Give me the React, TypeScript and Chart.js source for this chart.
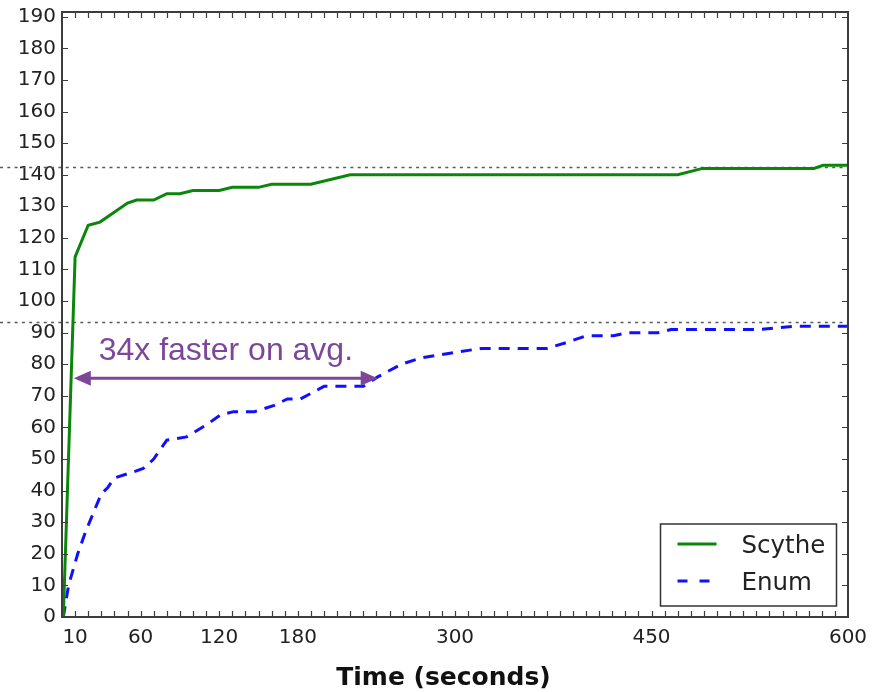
import React, { useEffect, useRef } from "react";
import { Chart, registerables } from "chart.js";

Chart.register(...registerables);

// ---------- data ----------
const SERIES_LABELS = ["Scythe", "Enum"];

const SCYTHE_TIME = [1, 10, 20, 29, 50, 57, 70, 80, 90, 100, 120, 130, 150, 160, 190, 220, 470, 489, 574, 581, 600];
const SCYTHE_SOLVED = [0, 114, 124, 125, 131, 132, 132, 134, 134, 135, 135, 136, 136, 137, 137, 140, 140, 142, 142, 143, 143];

const ENUM_TIME = [1, 5, 12, 18, 24, 30, 35, 40, 55, 62, 70, 80, 95, 111, 121, 131, 147, 162, 172, 182, 200, 230, 241, 259, 274, 289, 304, 320, 370, 386, 400, 421, 432, 455, 465, 480, 533, 559, 600];
const ENUM_SOLVED = [0, 10, 20, 27, 33, 39, 41, 44, 46, 47, 50, 56, 57, 61, 64, 65, 65, 67, 69, 69, 73, 73, 76, 80, 82, 83, 84, 85, 85, 87, 89, 89, 90, 90, 91, 91, 91, 92, 92];

const X_TICKS = [10, 60, 120, 180, 300, 450, 600];
const Y_TICKS = [0, 10, 20, 30, 40, 50, 60, 70, 80, 90, 100, 110, 120, 130, 140, 150, 160, 170, 180, 190];
const X_MINOR_TICKS = [10, 20, 30, 40, 50, 60, 70, 80, 90, 100, 110, 120, 130, 140, 150, 160, 170, 180, 190, 200, 210, 220, 230, 240, 250, 260, 270, 280, 290, 300, 310, 320, 330, 340, 350, 360, 370, 380, 390, 400, 410, 420, 430, 440, 450, 460, 470, 480, 490, 500, 510, 520, 530, 540, 550, 560, 570, 580, 590];
const X_RANGE = [0, 600];
const Y_RANGE = [0, 191.5];

const REFERENCE_LEVELS = [142.5, 93.5];

const X_TITLE = "Time (seconds)";
const ANNOTATION_TEXT = "34x faster on avg.";
const ANNOTATION_FROM = 9;
const ANNOTATION_TO = 241;
const ANNOTATION_LEVEL = 75.6;
const ANNOTATION_TEXT_X = 28;
const ANNOTATION_TEXT_Y = 81.5;

// ---------- styles ----------
const GREEN = "#0a870a";
const BLUE = "#1010ff";
const PURPLE = "#7d4799";
const FRAME = "#3c3c3c";
const TEXT = "#222222";
const FONT = "'DejaVu Sans', 'Liberation Sans', sans-serif";

const decorPlugin = {
  id: "figureDecor",
  beforeDatasetsDraw(chart: any) {
    const { ctx, chartArea: a, scales } = chart;
    const y = scales.y;
    ctx.save();
    ctx.strokeStyle = "#5a5a5a";
    ctx.lineWidth = 1.5;
    ctx.setLineDash([3, 4.3]);
    for (const v of REFERENCE_LEVELS) {
      const py = Math.round(y.getPixelForValue(v)) + 0.5;
      ctx.beginPath();
      ctx.moveTo(0, py);
      ctx.lineTo(a.right, py);
      ctx.stroke();
    }
    ctx.restore();
  },
  afterDatasetsDraw(chart: any) {
    const { ctx, chartArea: a, scales } = chart;
    const x = scales.x;
    const y = scales.y;
    ctx.save();

    // inward tick marks on all four sides
    ctx.strokeStyle = FRAME;
    ctx.lineWidth = 1.2;
    const tl = 6;
    ctx.beginPath();
    for (const v of X_MINOR_TICKS) {
      const px = Math.round(x.getPixelForValue(v)) + 0.5;
      ctx.moveTo(px, a.bottom);
      ctx.lineTo(px, a.bottom - tl);
      ctx.moveTo(px, a.top);
      ctx.lineTo(px, a.top + tl);
    }
    for (const v of Y_TICKS) {
      const py = Math.round(y.getPixelForValue(v)) + 0.5;
      ctx.moveTo(a.left, py);
      ctx.lineTo(a.left + tl, py);
      ctx.moveTo(a.right, py);
      ctx.lineTo(a.right - tl, py);
    }
    ctx.stroke();

    // frame
    ctx.lineWidth = 2;
    ctx.strokeRect(a.left, a.top, a.right - a.left, a.bottom - a.top);

    // annotation arrow
    const ax0 = x.getPixelForValue(ANNOTATION_FROM);
    const ax1 = x.getPixelForValue(ANNOTATION_TO);
    const ay = y.getPixelForValue(ANNOTATION_LEVEL);
    const headL = 17;
    const headW = 7.5;
    ctx.strokeStyle = PURPLE;
    ctx.fillStyle = PURPLE;
    ctx.lineWidth = 3;
    ctx.beginPath();
    ctx.moveTo(ax0 + headL - 2, ay);
    ctx.lineTo(ax1 - headL + 2, ay);
    ctx.stroke();
    ctx.beginPath();
    ctx.moveTo(ax0, ay);
    ctx.lineTo(ax0 + headL, ay - headW);
    ctx.lineTo(ax0 + headL, ay + headW);
    ctx.closePath();
    ctx.fill();
    ctx.beginPath();
    ctx.moveTo(ax1, ay);
    ctx.lineTo(ax1 - headL, ay - headW);
    ctx.lineTo(ax1 - headL, ay + headW);
    ctx.closePath();
    ctx.fill();

    ctx.font = "32px 'Liberation Sans', Arial, sans-serif";
    ctx.textAlign = "left";
    ctx.textBaseline = "alphabetic";
    ctx.fillText(ANNOTATION_TEXT, x.getPixelForValue(ANNOTATION_TEXT_X), y.getPixelForValue(ANNOTATION_TEXT_Y));

    // legend
    const lx = a.right - 187.5;
    const ly = a.bottom - 93;
    const lw = 176;
    const lh = 82;
    ctx.fillStyle = "#ffffff";
    ctx.fillRect(lx, ly, lw, lh);
    ctx.strokeStyle = "#333333";
    ctx.lineWidth = 1.5;
    ctx.strokeRect(lx, ly, lw, lh);
    const ds = chart.data.datasets;
    const rows = [ly + 20, ly + 57];
    ds.forEach((d: any, i: number) => {
      ctx.save();
      ctx.strokeStyle = d.borderColor;
      ctx.lineWidth = 3;
      ctx.setLineDash(d.borderDash && d.borderDash.length ? [10, 12] : []);
      ctx.beginPath();
      ctx.moveTo(lx + 17, rows[i]);
      ctx.lineTo(lx + 56, rows[i]);
      ctx.stroke();
      ctx.restore();
      ctx.fillStyle = TEXT;
      ctx.font = `24.5px ${FONT}`;
      ctx.textAlign = "left";
      ctx.textBaseline = "alphabetic";
      ctx.fillText(d.label, lx + 81, rows[i] + 9);
    });

    // x axis title
    ctx.fillStyle = "#111111";
    ctx.font = `bold 25px ${FONT}`;
    ctx.textAlign = "center";
    ctx.textBaseline = "alphabetic";
    ctx.fillText(X_TITLE, (a.left + a.right) / 2 - 11.5, 685);

    ctx.restore();
  },
};

export default function App() {
  const canvasRef = useRef<HTMLCanvasElement | null>(null);

  useEffect(() => {
    const canvas = canvasRef.current;
    if (!canvas) return;
    const chart = new Chart(canvas, {
      type: "line",
      data: {
        datasets: [
          {
            label: SERIES_LABELS[0],
            data: SCYTHE_TIME.map((t, i) => ({ x: t, y: SCYTHE_SOLVED[i] })),
            borderColor: GREEN,
            borderWidth: 3,
            pointRadius: 0,
            tension: 0,
            fill: false,
          },
          {
            label: SERIES_LABELS[1],
            data: ENUM_TIME.map((t, i) => ({ x: t, y: ENUM_SOLVED[i] })),
            borderColor: BLUE,
            borderWidth: 3,
            borderDash: [11, 8],
            pointRadius: 0,
            tension: 0,
            fill: false,
          },
        ],
      },
      options: {
        responsive: false,
        animation: false,
        events: [],
        layout: { padding: { left: 0, right: 32, top: 12, bottom: 0 } },
        plugins: {
          legend: { display: false },
          tooltip: { enabled: false },
          title: { display: false },
        },
        scales: {
          x: {
            type: "linear",
            min: X_RANGE[0],
            max: X_RANGE[1],
            grid: { display: false, drawTicks: false },
            border: { display: false },
            afterBuildTicks: (scale: any) => {
              scale.ticks = X_TICKS.map((v) => ({ value: v }));
            },
            afterFit: (scale: any) => {
              scale.height = 75;
              scale.paddingLeft = 0;
              scale.paddingRight = 0;
            },
            ticks: {
              autoSkip: false,
              maxRotation: 0,
              padding: 9,
              color: TEXT,
              font: { family: FONT, size: 20 },
              callback: (v: any) => String(v),
            },
          },
          y: {
            type: "linear",
            min: Y_RANGE[0],
            max: Y_RANGE[1],
            grid: { display: false, drawTicks: false },
            border: { display: false },
            afterBuildTicks: (scale: any) => {
              scale.ticks = Y_TICKS.map((v) => ({ value: v }));
            },
            afterFit: (scale: any) => {
              scale.width = 62;
              scale.paddingTop = 0;
              scale.paddingBottom = 0;
            },
            ticks: {
              autoSkip: false,
              padding: 6,
              color: TEXT,
              font: { family: FONT, size: 20 },
              callback: (v: any) => String(v),
            },
          },
        },
      },
      plugins: [decorPlugin],
    } as any);
    return () => chart.destroy();
  }, []);

  return (
    <div style={{ position: "fixed", left: 0, top: 0, width: 880, height: 692, background: "#ffffff" }}>
      <canvas ref={canvasRef} width={880} height={692} style={{ display: "block", width: 880, height: 692 }} />
    </div>
  );
}
